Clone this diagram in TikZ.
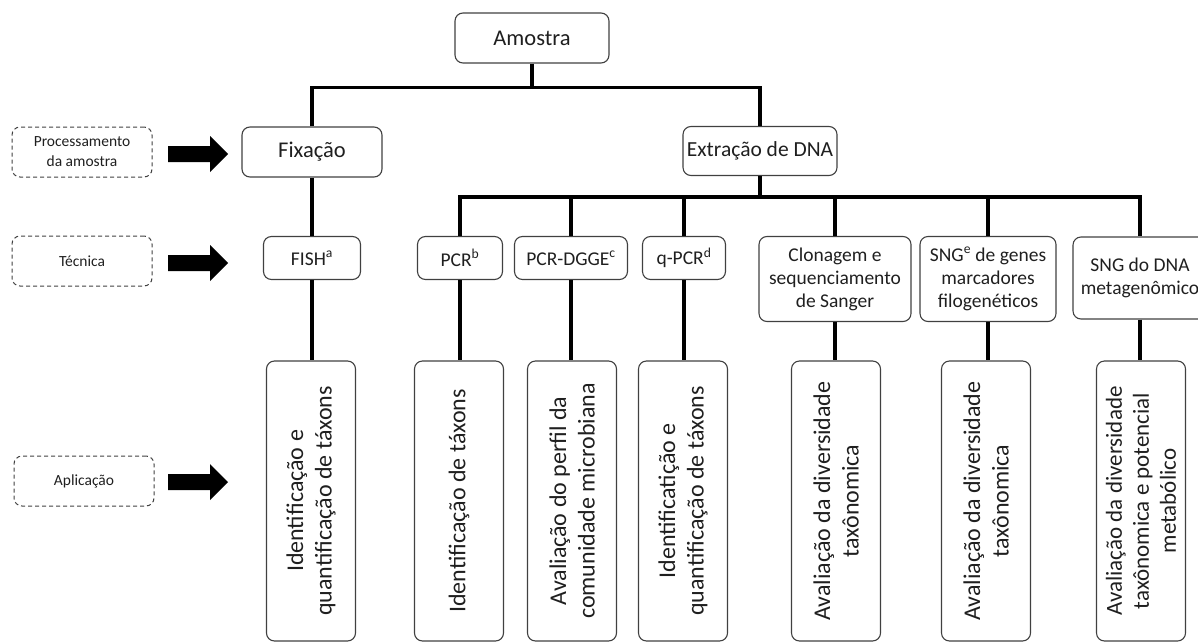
\documentclass[tikz,border=0pt]{standalone}
\usepackage{fontspec}
\setmainfont{Carlito}
\usepackage{tikz}

\begin{document}
\begin{tikzpicture}[x=1pt,y=-1pt,
	box/.style={draw=black!75,line width=1.1pt,rounded corners=8pt,text=black!88,inner sep=0pt,align=center},
	big/.style={box,font=\fontsize{22.5}{27}\selectfont},
	tech/.style={box,font=\fontsize{19.5}{23}\selectfont},
	app/.style={box,rotate=90,minimum width=280pt,minimum height=89pt,font=\fontsize{24}{28.5}\selectfont},
	stagebox/.style={draw=black!75,line width=1pt,dash pattern=on 4pt off 3pt,rounded corners=8pt,text=black!88,minimum width=140pt,minimum height=50pt,align=center,font=\fontsize{15.5}{20}\selectfont},
	conn/.style={line width=3.2pt}]
	\useasboundingbox (0,0) rectangle (1198,642);

	% stages on the left
	\draw (82,152) node(proc) [stagebox] {Processamento\\da amostra};
	\draw (82,261) node(tec) [stagebox] {T\'ecnica};
	\draw (84,481) node(apl) [stagebox] {Aplica\c{c}\~ao};
	\foreach \y in {154,263,482}
		\fill[black] (168,\y-8) -- (210,\y-8) -- (210,\y-18) -- (228,\y) -- (210,\y+18) -- (210,\y+8) -- (168,\y+8) -- cycle;

	% top of the tree
	\draw (532,38) node(amostra) [big,minimum width=154pt,minimum height=50pt] {Amostra};
	\draw (312,152) node(fixacao) [big,minimum width=140pt,minimum height=50pt] {Fixa\c{c}\~ao};
	\draw (760,151) node(extracao) [box,font=\fontsize{21.5}{25}\selectfont,minimum width=154pt,minimum height=49pt] {Extra\c{c}\~ao de DNA};

	% techniques
	\draw (312,258) node(fish) [tech,minimum width=97pt,minimum height=43pt] {FISH\textsuperscript{a}};
	\draw (460,258) node(pcr) [tech,minimum width=85pt,minimum height=43pt] {PCR\textsuperscript{b}};
	\draw (571,258) node(pcrdgge) [tech,minimum width=113pt,minimum height=43pt] {PCR-DGGE\textsuperscript{c}};
	\draw (684,258) node(qpcr) [tech,minimum width=83pt,minimum height=43pt] {q-PCR\textsuperscript{d}};
	\draw (835,279) node(clonagem) [tech,minimum width=152pt,minimum height=85pt] {Clonagem e\\sequenciamento\\de Sanger};
	\draw (988,279) node(sngmarc) [tech,minimum width=136pt,minimum height=85pt] {SNG\textsuperscript{e} de genes\\marcadores\\filogen\'eticos};
	\draw (1140,278) node(sngmeta) [tech,minimum width=134pt,minimum height=82pt] {SNG do DNA\\metagen\^omico};

	% applications
	\draw (311,501) node(afish) [app] {Identifica\c{c}\~ao e\\quantifica\c{c}\~ao de t\'axons};
	\draw (459,501) node(apcr) [app] {Identifica\c{c}\~ao de t\'axons};
	\draw (572,501) node(apcrdgge) [app] {Avalia\c{c}\~ao do perfil da\\comunidade microbiana};
	\draw (683,501) node(aqpcr) [app] {Identificati\c{c}\~ao e\\quantifica\c{c}\~ao de t\'axons};
	\draw (836,501) node(aclonagem) [app] {Avalia\c{c}\~ao da diversidade\\tax\^onomica};
	\draw (986,501) node(asngmarc) [app] {Avalia\c{c}\~ao da diversidade\\tax\^onomica};
	\draw (1141,501) node(asngmeta) [app,font=\fontsize{23}{27}\selectfont] {Avalia\c{c}\~ao da diversidade\\tax\^onomica e potencial\\metab\'olico};

	% connectors
	\draw[conn] (amostra.south) -- ++(0,24) coordinate (j1);
	\draw[conn] (fixacao.north) |- (j1) -| (extracao.north);
	\draw[conn] (fixacao.south) -- (fish.north);
	\draw[conn] (extracao.south) -- ++(0,21) coordinate (j2);
	\draw[conn] (pcr.north) |- (j2) -| (sngmeta.north);
	\foreach \n in {pcrdgge,qpcr,clonagem,sngmarc}
		\draw[conn] (\n.north) -- (\n.north |- j2);
	\foreach \a/\b in {fish/afish,pcr/apcr,pcrdgge/apcrdgge,qpcr/aqpcr,clonagem/aclonagem,sngmarc/asngmarc,sngmeta/asngmeta}
		\draw[conn] (\a.south) -- (\a.south |- \b.east);
\end{tikzpicture}
\end{document}
